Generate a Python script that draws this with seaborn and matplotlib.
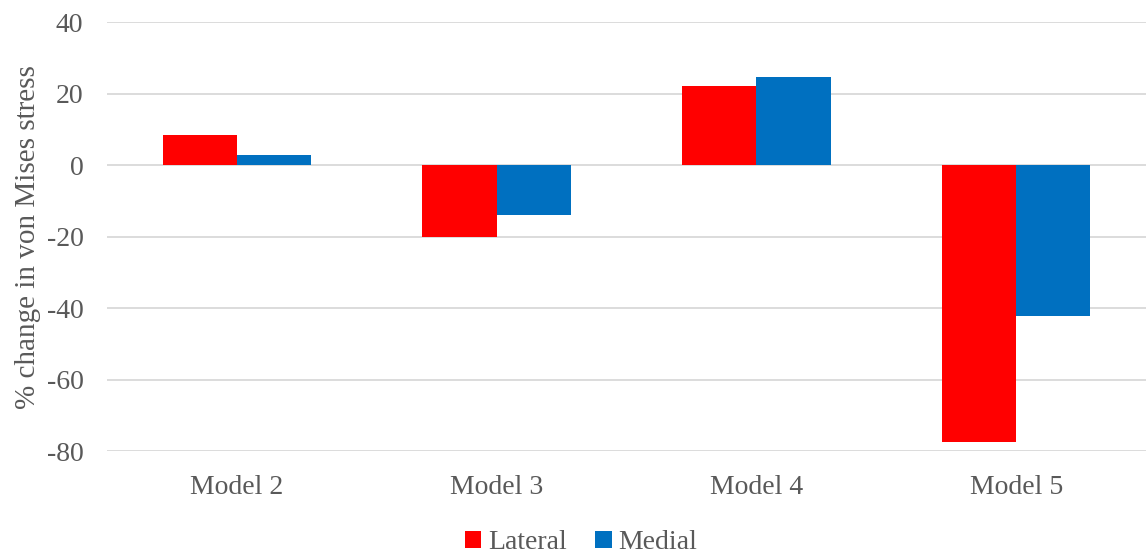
import pandas as pd
import seaborn as sns
import matplotlib.pyplot as plt

# values
models = ["Model 2", "Model 3", "Model 4", "Model 5"]
lateral = [8.4, -20.0, 22.1, -77.4]
medial = [2.8, -14.0, 24.6, -42.0]
series = ["Lateral", "Medial"]
colors = ["#ff0000", "#0070c0"]
y_ticks = [-80, -60, -40, -20, 0, 20, 40]

df = pd.DataFrame({
    "model": models * 2,
    "value": lateral + medial,
    "side": [series[0]] * len(models) + [series[1]] * len(models),
})

sns.set_style("white")
plt.rcParams["font.family"] = ["Liberation Serif", "DejaVu Serif"]
plt.rcParams["axes.unicode_minus"] = False
text_col = "#595959"

fig = plt.figure(figsize=(11.46, 5.55), dpi=100)
ax = fig.add_axes([0.0934, 0.1865, 0.9066, 0.7735])

sns.barplot(data=df, x="model", y="value", hue="side", palette=colors,
            width=0.571, gap=0, saturation=1, ax=ax, zorder=3, edgecolor="none")

ax.set_ylim(-80, 40)
ax.set_yticks(y_ticks)
ax.set_xlim(-0.5, len(models) - 0.5)
ax.grid(axis="y", color="#d9d9d9", linewidth=1.3, zorder=0)
for s in ax.spines.values():
    s.set_visible(False)

ax.tick_params(axis="y", length=0, pad=17, labelsize=20, labelcolor=text_col)
ax.tick_params(axis="x", length=0, pad=17, labelsize=20, labelcolor=text_col)
ax.set_xlabel("")
ax.set_ylabel("% change in von Mises stress", fontsize=21, color=text_col, labelpad=4)

handles, labels = ax.get_legend_handles_labels()
ax.get_legend().remove()
fig.legend(handles, labels, loc="center", bbox_to_anchor=(0.507, 0.022),
           ncol=2, frameon=False, fontsize=20, labelcolor=text_col,
           handlelength=0.6, handleheight=0.6, handletextpad=0.25, columnspacing=1.0)

fig.savefig("out.png", dpi=100)
